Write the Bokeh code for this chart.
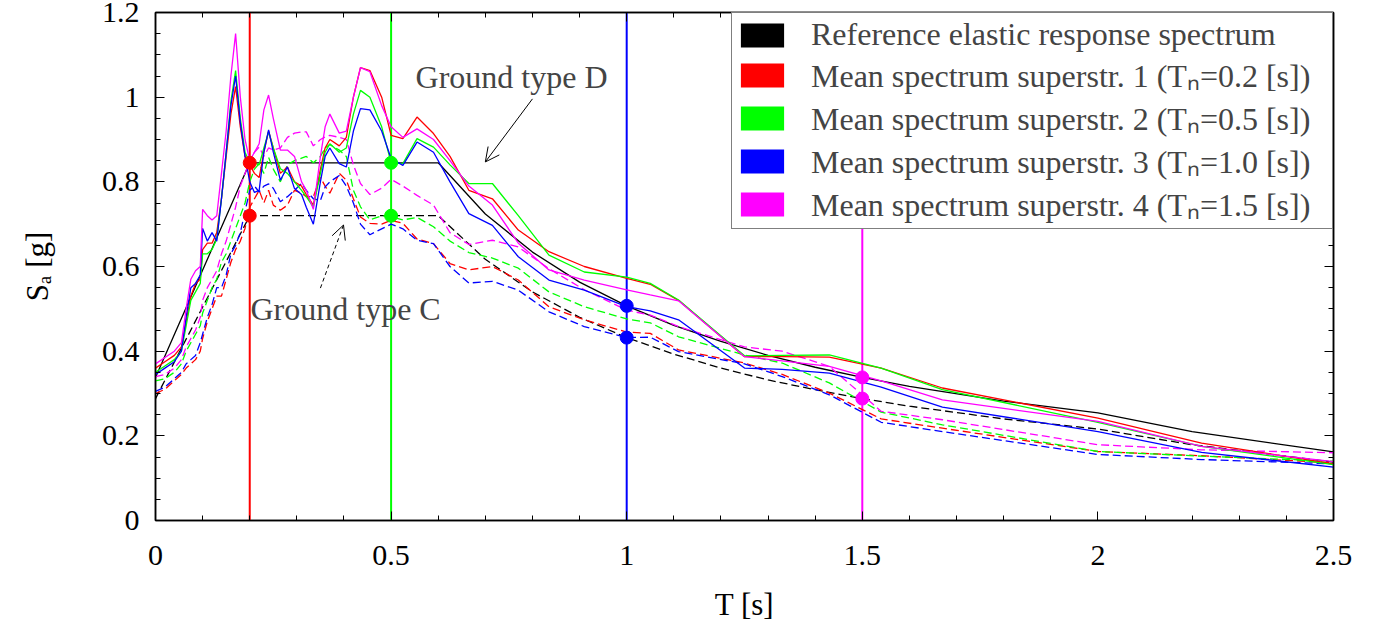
from bokeh.plotting import figure
from bokeh.models import (Legend, LegendItem, Label, Arrow, OpenHead, FixedTicker,
                          LinearAxis, CustomJSTickFormatter, Range1d)
from bokeh.embed import file_html
from bokeh.resources import INLINE

# ---------------- data ----------------
T_mean = [0.00, 0.02, 0.04, 0.055, 0.065, 0.075, 0.085, 0.095, 0.10, 0.11,
          0.12, 0.13, 0.14, 0.15, 0.16, 0.17, 0.18, 0.19, 0.20, 0.21,
          0.22, 0.23, 0.24, 0.25, 0.265, 0.28, 0.295, 0.31, 0.32, 0.335,
          0.35, 0.36, 0.37, 0.39, 0.405, 0.42, 0.435, 0.455, 0.48, 0.50,
          0.525, 0.555, 0.59, 0.625, 0.665, 0.715, 0.77, 0.835, 0.91, 1.00,
          1.05, 1.11, 1.25, 1.33, 1.43, 1.54, 1.67, 2.00, 2.22, 2.50]

# Ground type D (solid) mean spectra
sup1_D = [0.36, 0.375, 0.39, 0.41, 0.47, 0.53, 0.56, 0.57, 0.64, 0.655,
          0.655, 0.68, 0.76, 0.86, 0.96, 1.025, 0.93, 0.86, 0.84, 0.82,
          0.81, 0.87, 0.92, 0.88, 0.82, 0.835, 0.80, 0.79, 0.77, 0.745,
          0.83, 0.88, 0.90, 0.885, 0.905, 1.00, 1.07, 1.063, 1.00, 0.91,
          0.902, 0.953, 0.914, 0.86, 0.78, 0.76, 0.686, 0.635, 0.60, 0.572,
          0.558, 0.52, 0.387, 0.387, 0.386, 0.36, 0.313, 0.242, 0.183, 0.134]
sup2_D = [0.35, 0.365, 0.38, 0.40, 0.46, 0.52, 0.54, 0.56, 0.63, 0.63,
          0.64, 0.665, 0.76, 0.87, 0.99, 1.063, 0.95, 0.87, 0.845, 0.845,
          0.84, 0.88, 0.918, 0.88, 0.831, 0.82, 0.80, 0.78, 0.765, 0.74,
          0.82, 0.87, 0.89, 0.87, 0.88, 0.96, 1.016, 1.00, 0.93, 0.845,
          0.843, 0.902, 0.882, 0.84, 0.796, 0.796, 0.72, 0.627, 0.587, 0.575,
          0.56, 0.521, 0.389, 0.39, 0.391, 0.36, 0.309, 0.232, 0.175, 0.132]
sup3_D = [0.345, 0.36, 0.375, 0.40, 0.48, 0.55, 0.56, 0.58, 0.69, 0.66,
          0.68, 0.66, 0.76, 0.87, 0.98, 1.05, 0.94, 0.86, 0.80, 0.775,
          0.78, 0.87, 0.923, 0.87, 0.804, 0.835, 0.784, 0.77, 0.74, 0.70,
          0.80, 0.86, 0.88, 0.843, 0.835, 0.92, 0.973, 0.97, 0.92, 0.855,
          0.839, 0.894, 0.87, 0.80, 0.725, 0.697, 0.623, 0.568, 0.544, 0.505,
          0.495, 0.474, 0.36, 0.357, 0.348, 0.315, 0.268, 0.21, 0.161, 0.126]
sup4_D = [0.37, 0.385, 0.40, 0.42, 0.50, 0.57, 0.59, 0.60, 0.735, 0.72,
          0.71, 0.72, 0.82, 0.92, 1.05, 1.15, 1.00, 0.90, 0.85, 0.87,
          0.89, 0.97, 1.005, 0.95, 0.875, 0.875, 0.86, 0.80, 0.78, 0.735,
          0.86, 0.93, 0.96, 0.915, 0.92, 1.00, 1.07, 1.06, 0.98, 0.93,
          0.905, 0.925, 0.90, 0.85, 0.79, 0.745, 0.655, 0.592, 0.568, 0.545,
          0.533, 0.519, 0.387, 0.377, 0.364, 0.33, 0.285, 0.234, 0.175, 0.139]

# Ground type C (dashed) mean spectra
sup1_C = [0.30, 0.31, 0.33, 0.345, 0.36, 0.37, 0.38, 0.40, 0.43, 0.47,
          0.50, 0.53, 0.53, 0.57, 0.61, 0.64, 0.66, 0.69, 0.74, 0.76,
          0.78, 0.75, 0.78, 0.745, 0.733, 0.745, 0.78, 0.773, 0.765, 0.765,
          0.81, 0.79, 0.773, 0.82, 0.804, 0.76, 0.717, 0.702, 0.70, 0.709,
          0.702, 0.665, 0.654, 0.607, 0.592, 0.60, 0.568, 0.505, 0.474, 0.445,
          0.442, 0.403, 0.372, 0.345, 0.301, 0.24, 0.218, 0.163, 0.153, 0.136]
sup2_C = [0.33, 0.335, 0.35, 0.37, 0.40, 0.42, 0.44, 0.46, 0.49, 0.52,
          0.55, 0.57, 0.61, 0.63, 0.66, 0.69, 0.72, 0.75, 0.80, 0.83,
          0.843, 0.82, 0.858, 0.83, 0.80, 0.84, 0.85, 0.856, 0.86, 0.845,
          0.86, 0.88, 0.888, 0.875, 0.86, 0.78, 0.741, 0.71, 0.72, 0.717,
          0.71, 0.716, 0.694, 0.66, 0.633, 0.62, 0.596, 0.54, 0.505, 0.476,
          0.467, 0.434, 0.391, 0.372, 0.325, 0.256, 0.226, 0.163, 0.152, 0.14]
sup3_C = [0.305, 0.315, 0.335, 0.35, 0.37, 0.38, 0.39, 0.42, 0.44, 0.48,
          0.51, 0.55, 0.55, 0.58, 0.63, 0.65, 0.68, 0.73, 0.78, 0.79,
          0.776, 0.79, 0.795, 0.785, 0.753, 0.765, 0.78, 0.796, 0.78, 0.76,
          0.756, 0.788, 0.80, 0.815, 0.79, 0.75, 0.70, 0.675, 0.689, 0.70,
          0.689, 0.662, 0.654, 0.60, 0.561, 0.565, 0.544, 0.493, 0.458, 0.432,
          0.433, 0.399, 0.37, 0.34, 0.297, 0.232, 0.21, 0.156, 0.144, 0.134]
sup4_C = [0.34, 0.345, 0.36, 0.38, 0.41, 0.43, 0.45, 0.48, 0.52, 0.55,
          0.57, 0.59, 0.63, 0.66, 0.70, 0.74, 0.79, 0.82, 0.85, 0.87,
          0.882, 0.86, 0.88, 0.875, 0.88, 0.905, 0.915, 0.918, 0.918, 0.885,
          0.90, 0.906, 0.91, 0.905, 0.90, 0.84, 0.796, 0.77, 0.785, 0.806,
          0.79, 0.768, 0.745, 0.68, 0.652, 0.662, 0.646, 0.595, 0.545, 0.497,
          0.485, 0.458, 0.41, 0.40, 0.364, 0.258, 0.238, 0.179, 0.167, 0.16]

# Reference elastic response spectra
T_ref = [0.0, 0.2, 0.6, 0.7, 0.8, 0.9, 1.0, 1.1, 1.2, 1.3, 1.4, 1.5, 1.6, 1.8, 2.0, 2.2, 2.5]
ref_D = [0.338, 0.845, 0.845, 0.724, 0.634, 0.563, 0.507, 0.461, 0.423, 0.390,
         0.362, 0.338, 0.317, 0.282, 0.254, 0.210, 0.162]
ref_C = [0.288, 0.72, 0.72, 0.617, 0.54, 0.48, 0.432, 0.393, 0.36, 0.332,
         0.309, 0.288, 0.27, 0.24, 0.216, 0.179, 0.138]

# Fundamental periods of the superstructures and reference values there
Tn = [0.2, 0.5, 1.0, 1.5]
Tn_ref_D = [0.845, 0.845, 0.507, 0.338]
Tn_ref_C = [0.72, 0.72, 0.432, 0.288]

colors = ["#ff0000", "#00ff00", "#0000ff", "#ff00ff"]
legend_labels = ["Reference elastic response spectrum",
                 "Mean spectrum superstr. 1 (T\u2099=0.2 [s])",
                 "Mean spectrum superstr. 2 (T\u2099=0.5 [s])",
                 "Mean spectrum superstr. 3 (T\u2099=1.0 [s])",
                 "Mean spectrum superstr. 4 (T\u2099=1.5 [s])"]
x_ticks = [0, 0.5, 1, 1.5, 2, 2.5]
y_ticks = [0, 0.2, 0.4, 0.6, 0.8, 1.0, 1.2]

# ---------------- figure ----------------
FONT = "Liberation Serif"
p = figure(frame_width=1178, frame_height=508,
           x_range=Range1d(0, 2.5), y_range=Range1d(0, 1.2),
           output_backend="svg", toolbar_location=None,
           min_border_left=155, min_border_right=40,
           min_border_top=12, min_border_bottom=100)
p.xgrid.visible = False
p.ygrid.visible = False
p.outline_line_color = "black"
p.outline_line_width = 1.5
p.background_fill_color = "white"
p.border_fill_color = "white"

DASH = "8 4"
LW = 1.3
D_series = [sup1_D, sup2_D, sup3_D, sup4_D]
C_series = [sup1_C, sup2_C, sup3_C, sup4_C]

# vertical lines at Tn
p.segment(x0=Tn, y0=[0] * 4, x1=Tn, y1=[1.2] * 4, line_color=colors, line_width=2)

# reference spectra
p.line(T_ref, ref_C, line_color="black", line_width=LW, line_dash=DASH)
p.line(T_ref, ref_D, line_color="black", line_width=LW)

for c, ys in zip(colors, C_series):
    p.line(T_mean, ys, line_color=c, line_width=LW, line_dash=DASH)
for c, ys in zip(colors, D_series):
    p.line(T_mean, ys, line_color=c, line_width=LW)

p.scatter(Tn, Tn_ref_D, size=13, fill_color=colors, line_color=colors)
p.scatter(Tn, Tn_ref_C, size=13, fill_color=colors, line_color=colors)

# legend swatches (filled boxes); zero-area quads so only the legend shows them
items = []
for lab, c in zip(legend_labels, ["black"] + colors):
    r = p.quad(left=[T_ref[0]], right=[T_ref[0]], top=[0], bottom=[0],
               fill_color=c, line_color=None)
    items.append(LegendItem(label=lab, renderers=[r]))
legend = Legend(items=items, location="top_right", margin=0, padding=3, spacing=0,
                glyph_width=54, glyph_height=30, label_standoff=22, label_width=518,
                label_text_font=FONT, label_text_font_size="32px",
                label_text_baseline="middle",
                border_line_color="black", border_line_width=1,
                background_fill_color="white", background_fill_alpha=1.0)
p.add_layout(legend)

# annotations
p.add_layout(Label(x=0.552, y=1.048, text="Ground type D", text_font=FONT,
                   text_font_size="32px", text_baseline="alphabetic"))
p.add_layout(Label(x=0.2016, y=0.50, text="Ground type C", text_font=FONT,
                   text_font_size="32px", text_baseline="alphabetic"))
p.add_layout(Arrow(end=OpenHead(size=14, line_width=1), x_start=0.80, y_start=0.996,
                   x_end=0.70, y_end=0.847, line_width=1))
p.add_layout(Arrow(end=OpenHead(size=14, line_width=1), x_start=0.35, y_start=0.549,
                   x_end=0.399, y_end=0.698, line_width=1, line_dash="4 3"))

# axes
xticker = FixedTicker(ticks=x_ticks, minor_ticks=[i / 10 for i in range(26)])
yticker = FixedTicker(ticks=y_ticks, minor_ticks=[i / 20 for i in range(25)])
fmt = CustomJSTickFormatter(code="return String(Math.round(tick*100)/100);")

def style(ax, ticker, labels=True):
    ax.ticker = ticker
    ax.major_tick_in = 9
    ax.major_tick_out = 0
    ax.minor_tick_in = 5
    ax.minor_tick_out = 0
    ax.major_tick_line_color = "black"
    ax.minor_tick_line_color = "black"
    ax.axis_line_color = "black"
    ax.axis_line_width = 1.5
    if labels:
        ax.formatter = fmt
        ax.major_label_text_font = FONT
        ax.major_label_text_font_size = "30px"
        ax.major_label_text_color = "black"
        ax.axis_label_text_font = FONT
        ax.axis_label_text_font_size = "31px"
        ax.axis_label_text_font_style = "normal"
        ax.axis_label_text_color = "black"
    else:
        ax.major_label_text_font_size = "1px"
        ax.major_label_text_color = None
        ax.major_label_standoff = 0

xa = p.xaxis[0]
ya = p.yaxis[0]
style(xa, xticker)
style(ya, yticker)
xa.axis_label = "T [s]"
ya.axis_label = "S\u2090 [g]"
xa.major_label_standoff = 25
ya.major_label_standoff = 16
xa.axis_label_standoff = 19
ya.axis_label_standoff = 44

top = LinearAxis()
style(top, xticker, labels=False)
p.add_layout(top, "above")
right = LinearAxis()
style(right, yticker, labels=False)
p.add_layout(right, "right")

open("out.html", "w").write(file_html(p, INLINE))
